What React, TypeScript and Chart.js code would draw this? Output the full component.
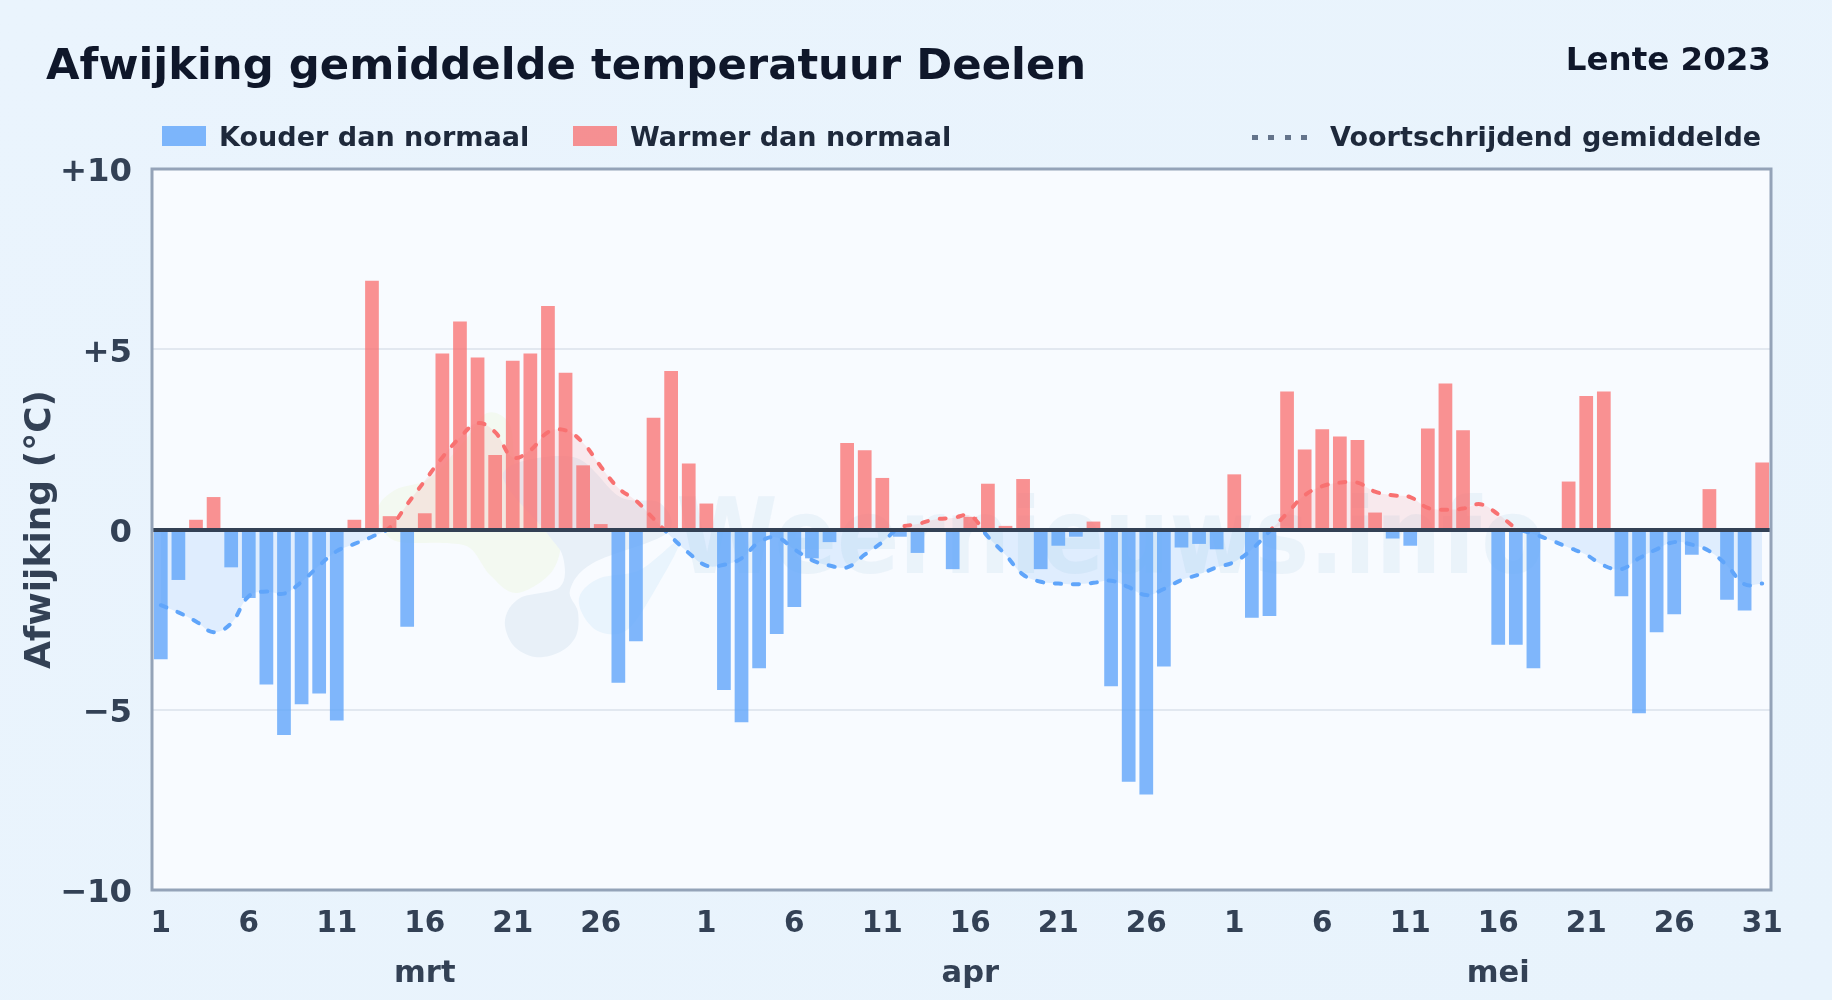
import React, { useEffect, useRef } from "react";
import { Chart, registerables } from "chart.js";

Chart.register(...registerables);

const monthNames = ["mrt", "apr", "mei"];
const monthLengths = [31, 30, 31];
const monthLabelDay = 16;
const shownDays = [1, 6, 11, 16, 21, 26];

const deviations = [
  -3.6, -1.4, 0.27, 0.9, -1.05, -1.9, -4.3, -5.7, -4.85, -4.55, -5.3, 0.27, 6.9, 0.37, -2.7, 0.45,
  4.88, 5.77, 4.77, 2.07, 4.68, 4.88, 6.2, 4.35, 1.78, 0.15, -4.25, -3.1, 3.1, 4.4, 1.83,
  0.72, -4.45, -5.35, -3.85, -2.9, -2.15, -0.8, -0.35, 2.4, 2.2, 1.43, -0.2, -0.65, -0.05, -1.1,
  0.35, 1.27, 0.1, 1.4, -1.1, -0.45, -0.2, 0.22, -4.35, -7.0, -7.35, -3.8, -0.5, -0.4, -0.55,
  1.53, -2.45, -2.4, 3.83, 2.22, 2.78, 2.58, 2.48, 0.47, -0.25, -0.45, 2.8, 4.05, 2.75, 0,
  -3.2, -3.2, -3.85, -0.05, 1.33, 3.7, 3.83, -1.85, -5.1, -2.85, -2.35, -0.7, 1.12, -1.95, -2.25, 1.86,
];

const movingAverage = [
  -2.1, -2.3, -2.55, -2.85, -2.6, -1.85, -1.72, -1.78, -1.45, -1.0, -0.6, -0.4, -0.2, 0.05, 0.7, 1.35,
  2.0, 2.55, 2.95, 2.7, 2.0, 2.2, 2.7, 2.75, 2.4, 1.75, 1.15, 0.8, 0.3, -0.2, -0.65,
  -1.0, -0.98, -0.8, -0.35, -0.22, -0.55, -0.85, -1.0, -1.05, -0.7, -0.35, 0.05, 0.15, 0.28, 0.32,
  0.38, -0.2, -0.7, -1.25, -1.45, -1.5, -1.52, -1.48, -1.42, -1.6, -1.82, -1.65, -1.4, -1.25, -1.05,
  -0.9, -0.55, -0.05, 0.45, 0.95, 1.2, 1.3, 1.3, 1.05, 0.95, 0.9, 0.6, 0.55, 0.58, 0.7,
  0.42, 0.05, -0.12, -0.3, -0.5, -0.7, -1.0, -1.1, -0.8, -0.55, -0.35, -0.42, -0.6, -1.0, -1.52, -1.5,
];

const categories: string[] = [];
monthLengths.forEach((len, m) => {
  for (let d = 1; d <= len; d++) categories.push(`${d} ${monthNames[m]}`);
});

const FONT = "'DejaVu Sans', sans-serif";
const COLD = "rgba(96,165,250,0.8)";
const WARM = "rgba(248,113,113,0.77)";

// watermark logo outlines, page pixels
const logoGreen = [
  [378, 510], [395, 490], [430, 478], [465, 440], [487, 413], [510, 425], [516, 470], [535, 500],
  [560, 530], [553, 570], [517, 593], [490, 575], [470, 548], [443, 543], [393, 540],
];
const logoGrey = [
  [503, 473], [573, 457], [620, 497], [660, 503], [667, 533], [593, 563], [570, 590], [578, 612],
  [576, 636], [560, 652], [535, 657], [513, 645], [505, 620], [520, 598], [560, 587], [563, 557], [547, 533],
];
const logoBlue = [
  [580, 595], [600, 578], [640, 570], [680, 540], [655, 590], [627, 630], [600, 632], [583, 615],
];

const smoothBlob = (ctx: CanvasRenderingContext2D, pts: number[][], color: string) => {
  const n = pts.length;
  ctx.fillStyle = color;
  ctx.beginPath();
  ctx.moveTo(pts[0][0], pts[0][1]);
  for (let i = 0; i < n; i++) {
    const p0 = pts[(i - 1 + n) % n];
    const p1 = pts[i];
    const p2 = pts[(i + 1) % n];
    const p3 = pts[(i + 2) % n];
    ctx.bezierCurveTo(
      p1[0] + (p2[0] - p0[0]) / 6,
      p1[1] + (p2[1] - p0[1]) / 6,
      p2[0] - (p3[0] - p1[0]) / 6,
      p2[1] - (p3[1] - p1[1]) / 6,
      p2[0],
      p2[1],
    );
  }
  ctx.closePath();
  ctx.fill();
};

const plotDecor = {
  id: "plotDecor",
  beforeDatasetsDraw(chart: any) {
    const { ctx, chartArea: a } = chart;
    const w = a.right - a.left;
    const h = a.bottom - a.top;
    ctx.save();
    ctx.beginPath();
    ctx.rect(a.left, a.top, w, h);
    ctx.clip();
    smoothBlob(ctx, logoGreen, "rgb(243,249,241)");
    smoothBlob(ctx, logoGrey, "rgb(232,240,248)");
    smoothBlob(ctx, logoBlue, "rgb(233,244,253)");
    ctx.fillStyle = "rgba(226,237,247,0.62)";
    ctx.font = `bold 92px ${FONT}`;
    ctx.textAlign = "center";
    ctx.textBaseline = "alphabetic";
    const tx = a.left + 0.592 * w;
    const ty = a.top + 0.56 * h;
    ctx.translate(tx, ty);
    ctx.scale(1, 1.15);
    ctx.fillText("Weernieuws.info", 0, 0);
    ctx.restore();
  },
  afterDatasetsDraw(chart: any) {
    const { ctx, chartArea: a, scales } = chart;
    const y0 = scales.y.getPixelForValue(0) + 0.5;
    ctx.save();
    ctx.strokeStyle = "#334155";
    ctx.lineWidth = 4;
    ctx.beginPath();
    ctx.moveTo(a.left, y0);
    ctx.lineTo(a.right, y0);
    ctx.stroke();
    ctx.strokeStyle = "#94a3b8";
    ctx.lineWidth = 3;
    ctx.strokeRect(a.left, a.top, a.right - a.left, a.bottom - a.top);
    ctx.restore();
  },
};

const plotBackground = {
  id: "plotBackground",
  beforeDraw(chart: any) {
    const { ctx, chartArea: a } = chart;
    ctx.save();
    ctx.fillStyle = "#f8fbff";
    ctx.fillRect(a.left, a.top, a.right - a.left, a.bottom - a.top);
    ctx.restore();
  },
};

function lineColour(context: any) {
  const { chart } = context;
  const a = chart.chartArea;
  if (!a) return "#60a5fa";
  const y0 = chart.scales.y.getPixelForValue(0);
  const g = chart.ctx.createLinearGradient(0, a.top, 0, a.bottom);
  const stop = (y0 - a.top) / (a.bottom - a.top);
  g.addColorStop(0, "#f87171");
  g.addColorStop(stop, "#f87171");
  g.addColorStop(stop, "#60a5fa");
  g.addColorStop(1, "#60a5fa");
  return g;
}

export default function App() {
  const ref = useRef<HTMLCanvasElement>(null);

  useEffect(() => {
    if (!ref.current) return;
    const monthTicks = new Map<number, string>();
    let offset = 0;
    monthLengths.forEach((len, m) => {
      monthTicks.set(offset + monthLabelDay - 1, monthNames[m]);
      offset += len;
    });
    const dayLabel = (i: number) => {
      let rest = i;
      for (let m = 0; m < monthLengths.length; m++) {
        if (rest < monthLengths[m]) {
          const d = rest + 1;
          if (shownDays.includes(d)) return String(d);
          if (m === monthLengths.length - 1 && d === monthLengths[m]) return String(d);
          return "";
        }
        rest -= monthLengths[m];
      }
      return "";
    };
    const chart = new Chart(ref.current, {
      type: "bar",
      data: {
        labels: categories,
        datasets: [
          {
            type: "line",
            label: "Voortschrijdend gemiddelde",
            data: movingAverage,
            borderColor: lineColour,
            borderWidth: 4,
            borderDash: [6, 12],
            borderCapStyle: "round",
            pointRadius: 0,
            tension: 0.4,
            fill: { target: "origin", above: "rgba(248,113,113,0.13)", below: "rgba(96,165,250,0.16)" },
            order: 0,
          } as any,
          {
            type: "bar",
            label: "Afwijking",
            data: deviations,
            backgroundColor: deviations.map((v) => (v < 0 ? COLD : WARM)),
            barPercentage: 0.78,
            categoryPercentage: 1,
            order: 1,
          } as any,
        ],
      },
      options: {
        responsive: false,
        animation: false,
        devicePixelRatio: 1,
        layout: { padding: { left: 19, right: 61, top: 169, bottom: 2 } },
        plugins: { legend: { display: false }, title: { display: false }, tooltip: { enabled: false } },
        scales: {
          x: {
            position: "bottom",
            grid: { display: false },
            border: { display: false },
            afterFit: (s: any) => { s.height = 58; },
            ticks: {
              autoSkip: false,
              maxRotation: 0,
              minRotation: 0,
              padding: 9,
              color: "#334155",
              font: { family: FONT, size: 29.5, weight: "bold" },
              callback: (_v: any, i: number) => dayLabel(i),
            },
          },
          xMonth: {
            type: "category",
            position: "bottom",
            labels: categories,
            grid: { display: false },
            border: { display: false },
            afterFit: (s: any) => { s.height = 50; },
            ticks: {
              autoSkip: false,
              maxRotation: 0,
              minRotation: 0,
              padding: 0,
              color: "#334155",
              font: { family: FONT, size: 30.5, weight: "bold" },
              callback: (_v: any, i: number) => monthTicks.get(i) ?? "",
            },
          },
          y: {
            min: -10,
            max: 10,
            afterFit: (s: any) => { s.width = 133; },
            border: { display: false },
            grid: {
              drawTicks: false,
              lineWidth: 2,
              color: "#e2e8f0",
            },
            title: {
              display: true,
              text: "Afwijking (°C)",
              color: "#334155",
              font: { family: FONT, size: 36, weight: "bold" },
              padding: { top: 0, bottom: 0 },
            },
            ticks: {
              stepSize: 5,
              padding: 20,
              labelOffset: 4,
              color: "#334155",
              font: { family: FONT, size: 32.3, weight: "bold" },
              callback: (v: any) => (v > 0 ? `+${v}` : v < 0 ? `\u2212${Math.abs(v)}` : "0"),
            },
          },
        },
      },
      plugins: [plotBackground, plotDecor],
    });
    return () => chart.destroy();
  }, []);

  const text = (extra: React.CSSProperties): React.CSSProperties => ({
    position: "absolute",
    fontFamily: FONT,
    fontWeight: "bold",
    whiteSpace: "nowrap",
    ...extra,
  });
  const swatch = (left: number, color: string): React.CSSProperties => ({
    position: "absolute",
    left,
    top: 126,
    width: 44,
    height: 20,
    background: color,
  });

  return (
    <div
      style={{
        position: "fixed",
        left: 0,
        top: 0,
        width: 1832,
        height: 1000,
        overflow: "hidden",
        background: "linear-gradient(135deg,#eaf4fd 0%,#e8f3fc 100%)",
      }}
    >
      <canvas ref={ref} width={1832} height={1000} style={{ position: "absolute", left: 0, top: 0 }} />
      <div style={text({ left: 46, top: 39, fontSize: 43.35, color: "#0f172a" })}>
        Afwijking gemiddelde temperatuur Deelen
      </div>
      <div style={text({ right: 61, top: 40, fontSize: 32.5, color: "#0f172a" })}>Lente 2023</div>
      <div style={swatch(162, COLD)} />
      <div style={text({ left: 219, top: 121, fontSize: 27.05, color: "#1e293b" })}>Kouder dan normaal</div>
      <div style={swatch(573, WARM)} />
      <div style={text({ left: 630, top: 121, fontSize: 27.05, color: "#1e293b" })}>Warmer dan normaal</div>
      <div
        style={{
          position: "absolute",
          left: 1252,
          top: 135,
          width: 56,
          height: 5,
          background: "repeating-linear-gradient(90deg,#64748b 0 6px,transparent 6px 16.5px)",
        }}
      />
      <div style={text({ left: 1330, top: 121, fontSize: 27.05, color: "#1e293b" })}>Voortschrijdend gemiddelde</div>
    </div>
  );
}
